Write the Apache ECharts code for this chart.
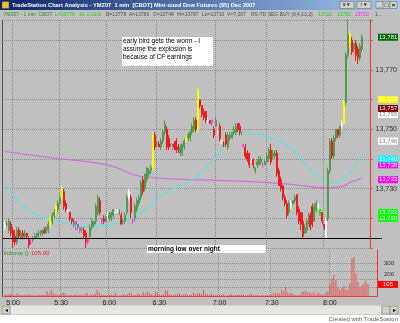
<!DOCTYPE html>
<html><head><meta charset="utf-8">
<script src="https://cdn.jsdelivr.net/npm/echarts@6/dist/echarts.min.js"></script>
<style>html,body{margin:0;padding:0;background:#fff}#c{width:400px;height:323px}</style>
</head><body><div id="c"></div>
<script>
// ---- data ----
const tickIdx  = [4, 28, 52, 77, 107, 133, 162];
const tickText = ['5:00', '5:30', '6:00', '6:30', '7:00', '7:30', '8:00'];
const totalSlots = 186;
// [open, close, low, high] per 1-min bar
const ohlc = [
[13717,13718,13716,13719],[13718,13718,13717,13719],[13716,13719,13715,13720],[13718,13715,13714,13719],
[13716,13712,13710,13717],[13714,13712,13711,13716],[13712,13716,13711,13717],[13716,13714,13713,13717],
[13713,13715,13713,13716],[13715,13714,13713,13716],[13714,13715,13713,13716],[13715,13714,13713,13715],
[13713,13711,13710,13714],[13712,13712,13711,13713],[13713,13713,13712,13714],[13713,13714,13713,13715],
[13714,13714,13713,13715],[13714,13715,13713,13716],[13715,13715,13714,13716],[13715,13716,13714,13716],
[13716,13715,13715,13717],[13715,13717,13715,13717],[13716,13718,13715,13719],[13718,13720,13717,13721],
[13719,13721,13718,13722],[13721,13722,13720,13723],[13722,13724,13721,13725],[13723,13725,13722,13726],
[13725,13727,13724,13728],[13727,13730,13726,13731],[13729,13724,13723,13730],[13725,13723,13722,13726],
[13723,13723,13722,13723],[13722,13720,13719,13722],[13720,13719,13718,13720],[13718,13719,13717,13720],
[13719,13718,13716,13719],[13717,13718,13716,13718],[13717,13716,13715,13717],[13716,13716,13715,13717],
[13716,13714,13713,13717],[13715,13712,13710,13716],[13712,13713,13711,13713],[13714,13717,13713,13718],
[13717,13719,13716,13720],[13718,13719,13717,13719],[13719,13724,13718,13725],[13722,13727,13721,13728],
[13726,13722,13721,13727],[13720,13719,13718,13720],[13720,13719,13718,13721],[13719,13720,13719,13721],
[13721,13721,13720,13722],[13720,13721,13719,13722],[13720,13722,13719,13722],[13721,13723,13720,13723],
[13722,13722,13722,13723],[13722,13722,13722,13723],[13722,13722,13721,13723],[13721,13718,13718,13722],
[13719,13719,13718,13720],[13719,13721,13718,13722],[13722,13727,13721,13728],[13727,13729,13726,13730],
[13727,13722,13720,13728],[13719,13719,13718,13720],[13720,13724,13719,13725],[13723,13726,13722,13727],
[13725,13727,13724,13728],[13727,13732,13726,13733],[13733,13729,13728,13734],[13730,13735,13729,13735],
[13733,13737,13732,13737],[13735,13736,13734,13737],[13736,13737,13735,13738],[13737,13748,13736,13749],
[13748,13744,13743,13749],[13745,13745,13744,13746],[13745,13744,13744,13746],[13744,13746,13743,13747],
[13746,13749,13745,13750],[13749,13752,13748,13753],[13750,13744,13743,13751],[13747,13744,13743,13748],
[13745,13745,13744,13745],[13745,13744,13743,13745],[13745,13744,13743,13746],[13746,13743,13742,13747],
[13744,13743,13742,13745],[13742,13744,13741,13745],[13742,13745,13741,13745],[13744,13746,13743,13747],
[13746,13747,13746,13748],[13747,13748,13746,13749],[13747,13749,13746,13750],[13749,13751,13748,13752],
[13750,13753,13749,13754],[13753,13750,13749,13754],[13750,13763,13749,13764],[13760,13758,13757,13760],
[13758,13755,13754,13758],[13756,13754,13753,13757],[13756,13753,13752,13756],[13753,13753,13752,13754],
[13753,13752,13752,13753],[13753,13752,13751,13753],[13750,13748,13747,13751],[13751,13753,13751,13754],
[13749,13749,13748,13750],[13751,13747,13746,13752],[13746,13746,13745,13746],[13745,13745,13744,13746],
[13748,13745,13744,13749],[13744,13748,13743,13749],[13747,13748,13746,13749],[13747,13749,13747,13749],
[13749,13750,13748,13751],[13749,13751,13748,13752],[13752,13750,13749,13752],[13751,13749,13748,13752],
[13749,13749,13748,13749],[13745,13744,13744,13745],[13744,13741,13740,13745],[13742,13740,13739,13743],
[13742,13738,13737,13742],[13739,13739,13739,13740],[13740,13738,13737,13740],[13736,13737,13735,13737],
[13738,13739,13737,13740],[13738,13740,13738,13741],[13739,13740,13738,13741],[13738,13738,13737,13739],
[13738,13739,13738,13740],[13739,13741,13739,13742],[13740,13743,13739,13744],[13743,13739,13738,13745],
[13741,13742,13740,13743],[13741,13742,13740,13743],[13742,13735,13734,13743],[13736,13731,13731,13737],
[13733,13730,13729,13734],[13731,13727,13726,13731],[13727,13725,13724,13728],[13725,13721,13720,13726],
[13722,13725,13721,13726],[13724,13725,13723,13726],[13725,13726,13724,13726],[13726,13727,13725,13728],
[13728,13722,13721,13728],[13723,13719,13718,13724],[13722,13718,13716,13722],[13719,13714,13713,13722],
[13715,13717,13715,13718],[13716,13719,13715,13720],[13719,13721,13718,13722],[13721,13717,13716,13722],
[13724,13718,13717,13725],[13719,13724,13719,13725],[13723,13725,13722,13726],[13724,13724,13723,13725],
[13721,13723,13721,13723],[13722,13719,13718,13722],[13718,13717,13716,13718],[13719,13713,13713,13720],
[13720,13736,13719,13737],[13736,13746,13735,13747],[13746,13741,13740,13747],[13741,13747,13740,13748],
[13747,13750,13746,13750],[13750,13748,13747,13750],[13748,13751,13747,13751],[13751,13752,13750,13753],
[13752,13759,13752,13760],[13759,13775,13758,13776],[13775,13782,13774,13787],[13782,13779,13777,13783],
[13780,13776,13775,13781],[13777,13779,13776,13779],[13779,13775,13773,13780],[13777,13774,13772,13778],
[13774,13778,13773,13779],[13777,13781,13776,13782]
];
const volume = [
12,8,15,20,10,6,25,14,8,10,12,
9,18,7,6,10,5,12,8,10,14,
45,20,55,30,15,12,10,18,30,25,
8,10,12,6,15,10,9,14,7,20,
25,10,15,12,20,55,30,15,10,8,
6,10,12,8,30,6,5,10,18,8,
14,30,22,12,8,20,15,10,35,20,
40,25,15,10,40,30,12,10,15,55,
45,20,10,8,12,15,25,10,12,20,
10,8,12,30,15,20,25,15,55,20,
15,10,25,8,6,12,10,8,15,6,
5,12,15,10,8,12,10,15,8,6,
10,15,18,6,8,10,5,8,6,10,
5,8,10,30,25,30,20,60,40,85,
30,20,30,15,10,8,12,35,40,45,
30,35,20,35,12,35,20,15,10,35,
40,115,160,190,145,80,60,70,90,60,
60,115,340,355,205,130,85,100,115,140,105
];
// moving averages read at sample bars: [barIndex, value]
const cyanMA = [[0,13731.3],[12,13722.9],[22,13719.8],[31,13718.5],[42,13717.1],[50,13717.5],[62,13719.5],
  [72,13723.5],[82,13728.6],[92,13732],[98,13734.5],[107,13740.4],[112,13745.8],[120,13748.8],[127,13748.5],
  [134,13747.1],[140,13745.8],[147,13742.4],[152,13738.5],[157,13735.3],[162,13733],[167,13732],[172,13733.6],
  [177,13737],[181,13741]];
const violetMA = [[0,13742.5],[25,13740.3],[52,13738],[70,13734],[95,13733],[127,13732.3],[147,13731.3],
  [162,13730.3],[170,13730.6],[176,13732.3],[181,13733.6]];
const overnightLow = 13713.4;
// right-hand scale flags: [value, text, background, text colour]
const priceFlags = [
  [13781,'13,781','#006400','#ffffff'],[13760,'13,760','#ffff00','#ffffff'],[13755,'13,755','#ffffff','#808080'],
  [13757,'13,757','#800000','#ffffff'],[13746,'13,746','#ffffff','#808080'],[13738,'13,738','#ff00ff','#ffffff'],
  [13740,'13,740','#00ffff','#ffffff'],[13733,'13,733','#ff00ff','#ffffff'],[13722,'13,722','#00ff00','#ffffff'],
  [13720,'13,720','#00ff00','#ffffff']];
const volLabels = [300, 200];
const lastVolume = 105;
// bars painted by the RS-TD indicator
const paint = {0:'#ffffff',13:'#ff40ff',23:'#ffff00',26:'#ffff00',29:'#ffff00',32:'#ffffff',36:'#ff40ff',38:'#ff40ff',
  42:'#ff40ff',49:'#ff40ff',52:'#ffffff',56:'#ffffff',57:'#ffffff',63:'#ffffff',65:'#ff40ff',75:'#ffff00',85:'#ff40ff',
  92:'#ffff00',98:'#ffff00',103:'#ffffff',105:'#ff40ff',108:'#ffffff',110:'#ffffff',121:'#ff40ff',125:'#ffffff',
  131:'#ff40ff',145:'#ffffff',159:'#ffffff',160:'#00ff00',163:'#ffffff',171:'#ffffff',172:'#ffff00',175:'#ffff00'};

// ---- chart ----
const cats = Array.from({length: totalSlots}, (_, i) => String(i));
const UP = '#529c52', DOWN = '#ee1c1c';
const candleData = ohlc.map((d, i) => {
  const c = paint[i];
  return c ? {value: d, itemStyle: {color: c, color0: c, borderColor: c, borderColor0: c}} : d;
});
const gridLine = {show: true, lineStyle: {color: '#8c8c8c', type: 'dotted', width: 1}};
const fmt = v => String(v).replace(/\B(?=(\d{3})+(?!\d))/g, ',');
const FONT = 'Liberation Sans';

const chart = echarts.init(document.getElementById('c'), null, {renderer: 'canvas'});
chart.setOption({
  animation: false,
  backgroundColor: '#c0c0c0',
  textStyle: {fontFamily: FONT},
  grid: [
    {left: 4, top: 20, width: 373, height: 228},
    {left: 4, top: 250, width: 373, height: 46}
  ],
  xAxis: [
    {type: 'category', gridIndex: 0, data: cats, boundaryGap: true,
     axisLine: {show: false}, axisTick: {show: false}, axisLabel: {show: false},
     splitLine: Object.assign({interval: (i) => tickIdx.includes(i)}, gridLine)},
    {type: 'category', gridIndex: 1, data: cats, boundaryGap: true,
     axisLine: {show: true, lineStyle: {color: '#e83838', width: 1}}, axisTick: {show: false},
     axisLabel: {interval: 0, fontSize: 7, color: '#202020', margin: 4, fontFamily: FONT,
       formatter: (v, i) => { const k = tickIdx.indexOf(i); return k >= 0 ? tickText[k] : ''; }},
     splitLine: Object.assign({interval: (i) => tickIdx.includes(i)}, gridLine)}
  ],
  yAxis: [
    {type: 'value', gridIndex: 0, position: 'right', min: 13710, max: 13786.8, interval: 10,
     axisLine: {show: true, lineStyle: {color: '#e83838'}}, axisTick: {show: true, length: 2, lineStyle: {color: '#e83838'}},
     axisLabel: {fontSize: 7, color: '#303030', margin: 5, fontFamily: FONT,
       formatter: v => [13770, 13750, 13730].includes(v) ? fmt(v) : ''},
     splitLine: {show: true, lineStyle: {color: '#8c8c8c', type: 'dotted', width: 1}}},
    {type: 'value', gridIndex: 1, position: 'right', min: 0, max: 418, interval: 100,
     axisLine: {show: true, lineStyle: {color: '#e83838'}}, axisTick: {show: false},
     axisLabel: {show: false}, splitLine: {show: false}}
  ],
  series: [
    {type: 'line', xAxisIndex: 0, yAxisIndex: 0, data: violetMA, smooth: 0.5, symbol: 'none',
     lineStyle: {color: '#d46ee0', width: 1.2}, z: 1},
    {type: 'line', xAxisIndex: 0, yAxisIndex: 0, data: cyanMA, smooth: 0.5, symbol: 'none',
     lineStyle: {color: '#66e0e0', width: 1.3}, z: 1},
    {type: 'candlestick', xAxisIndex: 0, yAxisIndex: 0, data: candleData, barWidth: 1.5,
     itemStyle: {color: UP, color0: DOWN, borderColor: UP, borderColor0: DOWN, borderWidth: 1}, z: 3},
    {type: 'bar', xAxisIndex: 1, yAxisIndex: 1, data: volume, barWidth: 1,
     itemStyle: {color: '#e85050'},
     markLine: {silent: true, symbol: 'none', label: {show: false},
       lineStyle: {color: '#8c8c8c', type: 'dotted', width: 1},
       data: [{yAxis: 75}, {yAxis: 150}, {yAxis: 225}, {yAxis: 300}]}}
  ]
});

// ---- chrome, annotations and flags ----
const py = v => chart.convertToPixel({yAxisIndex: 0}, v);
const vy = v => chart.convertToPixel({yAxisIndex: 1}, v);
const g = [];
// title bar
g.push({type: 'rect', shape: {x: 0, y: 0, width: 400, height: 10},
  style: {fill: new echarts.graphic.LinearGradient(0, 0, 1, 0, [{offset: 0, color: '#0a246a'}, {offset: 1, color: '#a6caf0'}])}});
g.push({type: 'rect', shape: {x: 2, y: 1.5, width: 7, height: 7}, style: {fill: '#e8c040', stroke: '#404040', lineWidth: 0.5}});
g.push({type: 'text', x: 12, y: 5, style: {text: 'TradeStation Chart Analysis - YMZ07  1 min  [CBOT] Mini-sized Dow Futures ($5) Dec 2007',
  fill: '#ffffff', font: 'bold 5.7px ' + FONT, textVerticalAlign: 'middle'}});
[[340, 14], [357, 14]].forEach(([x, w]) => {
  g.push({type: 'rect', shape: {x: x, y: 1.5, width: w, height: 7}, style: {fill: '#d4d0c8', stroke: '#606060', lineWidth: 0.5}});
});
g.push({type: 'text', x: 343, y: 5, style: {text: '≡ ▾', fill: '#000', font: '5px ' + FONT, textVerticalAlign: 'middle'}});
g.push({type: 'text', x: 360, y: 5, style: {text: '↕ ▾', fill: '#000', font: '5px ' + FONT, textVerticalAlign: 'middle'}});
[[376, '_'], [383, '□'], [390, '×']].forEach(([x, t]) => {
  g.push({type: 'rect', shape: {x: x, y: 1.5, width: 7, height: 7}, style: {fill: '#d4d0c8', stroke: '#606060', lineWidth: 0.5}});
  g.push({type: 'text', x: x + 3.5, y: 5, style: {text: t, fill: '#000', font: 'bold 6px ' + FONT, textAlign: 'center', textVerticalAlign: 'middle'}});
});
// info line
[[3, 'YMZ07 - 1 min  CBOT', '#2e8b2e'], [55, 'L=13779', '#22cc22'], [79, '42', '#22cc22'], [87, '0.31%', '#22cc22'],
 [106, 'B=13778', '#505050'], [129, 'A=13780', '#505050'], [153, 'O=13748', '#505050'], [177, 'Hi=13787', '#505050'],
 [202, 'Lo=13710', '#505050'], [227, 'V=7,287', '#505050'], [251, 'RS-TD SEG BUY (9,4,13,2)', '#505050'],
 [318, '13722', '#22cc22'], [337, '13720', '#22cc22'], [355, '13720', '#ff20ff'], [375, '1...', '#505050']].forEach(([x, t, c]) => {
  g.push({type: 'text', x: x, y: 15, style: {text: t, fill: c, font: '5px ' + FONT, textVerticalAlign: 'middle'}});
});
// panel border
g.push({type: 'line', shape: {x1: 2.5, y1: 20, x2: 2.5, y2: 297}, style: {stroke: '#505050', lineWidth: 1}});
// overnight low line
const ly = Math.round(py(overnightLow)) + 0.5;
g.push({type: 'line', shape: {x1: 3, y1: ly, x2: 382, y2: ly}, style: {stroke: '#000000', lineWidth: 1.2}, z: 50});
// annotation boxes
g.push({type: 'rect', shape: {x: 122, y: 37, width: 91, height: 29}, style: {fill: '#ffffff'}, z: 60});
['early bird gets the worm - I', 'assume the explosion is', 'because of CF earnings'].forEach((t, k) => {
  g.push({type: 'text', x: 123, y: 41.5 + k * 8, style: {text: t, fill: '#000', font: '6.5px ' + FONT, textVerticalAlign: 'middle'}, z: 61});
});
g.push({type: 'rect', shape: {x: 147, y: 245, width: 119, height: 8}, style: {fill: '#ffffff'}, z: 60});
g.push({type: 'text', x: 148, y: 249, style: {text: 'morning low over night', fill: '#000', font: 'bold 6.5px ' + FONT, textVerticalAlign: 'middle'}, z: 61});
// volume title
g.push({type: 'text', x: 3, y: 253.5, style: {text: 'Volume ()', fill: '#2e8b2e', font: '6px ' + FONT, textVerticalAlign: 'middle'}});
g.push({type: 'text', x: 31, y: 253.5, style: {text: '105.00', fill: '#ee2020', font: '6px ' + FONT, textVerticalAlign: 'middle'}});
// price flags
priceFlags.forEach(([v, t, bg, fg]) => {
  const y = py(v);
  g.push({type: 'rect', shape: {x: 378, y: y - 3.5, width: 20, height: 7}, style: {fill: bg}, z: 70});
  g.push({type: 'text', x: 379, y: y, style: {text: t, fill: fg, font: '6px ' + FONT, textVerticalAlign: 'middle'}, z: 71});
});
// volume scale
volLabels.forEach(v => {
  g.push({type: 'text', x: 384, y: vy(v), style: {text: String(v), fill: '#303030', font: '6px ' + FONT, textVerticalAlign: 'middle'}});
});
const yv = vy(lastVolume);
g.push({type: 'rect', shape: {x: 378, y: yv - 3.5, width: 20, height: 7}, style: {fill: '#ff0000'}, z: 70});
g.push({type: 'text', x: 383, y: yv, style: {text: String(lastVolume), fill: '#ffffff', font: '6px ' + FONT, textVerticalAlign: 'middle'}, z: 71});
// scroll bar
g.push({type: 'rect', shape: {x: 0, y: 305, width: 400, height: 10}, style: {fill: '#d4d0c8'}});
g.push({type: 'rect', shape: {x: 11, y: 306, width: 370, height: 8}, style: {fill: '#e6e6e6'}});
[[2, '◂'], [382, ''], [390, '▸']].forEach(([x, t]) => {
  g.push({type: 'rect', shape: {x: x, y: 306, width: 8, height: 8}, style: {fill: '#d4d0c8', stroke: '#707070', lineWidth: 0.5}});
  if (t) g.push({type: 'text', x: x + 4, y: 310, style: {text: t, fill: '#000', font: '6px ' + FONT, textAlign: 'center', textVerticalAlign: 'middle'}});
});
g.push({type: 'rect', shape: {x: 0, y: 315, width: 400, height: 8}, style: {fill: '#ffffff'}});
g.push({type: 'text', x: 398, y: 319, style: {text: 'Created with TradeStation', fill: '#606060', font: '6px ' + FONT, textAlign: 'right', textVerticalAlign: 'middle'}});
chart.setOption({graphic: {elements: g}});
</script></body></html>
